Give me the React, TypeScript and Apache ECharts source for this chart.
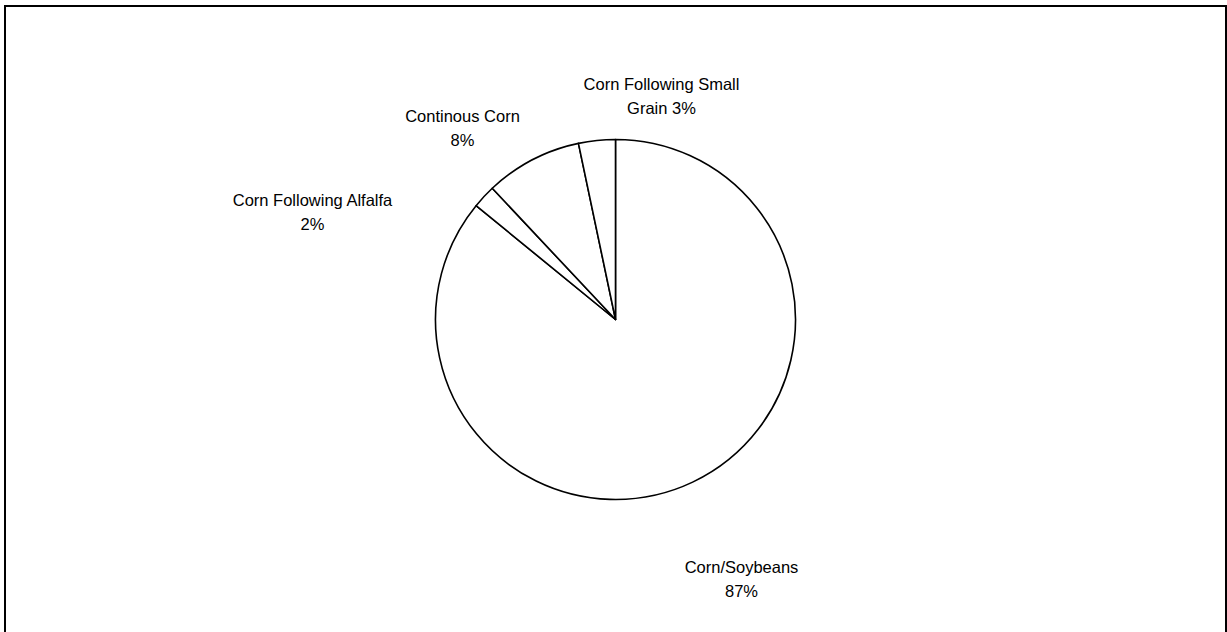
import React, { useEffect, useRef } from "react";
import * as echarts from "echarts";

const categories = [
  "Corn/Soybeans",
  "Corn Following Alfalfa",
  "Continous Corn",
  "Corn Following Small Grain",
];
const values = [85.9, 2.1, 8.7, 3.3];
const percentLabels = ["87%", "2%", "8%", "3%"];
const labelTexts = [
  "Corn/Soybeans\n87%",
  "Corn Following Alfalfa\n2%",
  "Continous Corn\n8%",
  "Corn Following Small\nGrain 3%",
];
// label centres relative to the pie centre (px)
const labelOffsets: [number, number][] = [
  [126, 259],
  [-303, -108],
  [-153, -192],
  [46, -224],
];

const CX = 615.5;
const CY = 319.5;

export default function App() {
  const ref = useRef<HTMLDivElement>(null);
  useEffect(() => {
    if (!ref.current) return;
    const chart = echarts.init(ref.current, undefined, { renderer: "svg" });
    chart.setOption({
      animation: false,
      backgroundColor: "#ffffff",
      graphic: [
        {
          type: "rect",
          shape: { x: 5, y: 6, width: 1221, height: 640 },
          style: { fill: "none", stroke: "#000", lineWidth: 2 },
          silent: true,
        },
      ],
      series: [
        {
          type: "pie",
          center: [CX, CY],
          radius: 180,
          startAngle: 90,
          clockwise: true,
          silent: true,
          avoidLabelOverlap: false,
          itemStyle: { color: "#ffffff", borderColor: "#000000", borderWidth: 1.6 },
          emphasis: { disabled: true },
          label: {
            show: true,
            position: "outside",
            color: "#000",
            fontFamily: "Liberation Sans, Arial, sans-serif",
            fontSize: 16.5,
            lineHeight: 24,
            align: "center",
            formatter: (p: any) => labelTexts[p.dataIndex],
          },
          labelLine: { show: false },
          labelLayout: (p: any) => {
            const o = labelOffsets[p.dataIndex];
            return {
              x: CX + o[0],
              y: CY + o[1],
              align: "center",
              verticalAlign: "middle",
            };
          },
          data: categories.map((c, i) => ({ name: c, value: values[i], pct: percentLabels[i] })),
        },
      ],
    });
    return () => chart.dispose();
  }, []);
  return (
    <div
      ref={ref}
      style={{ position: "fixed", left: 0, top: 0, width: 1227, height: 632 }}
    />
  );
}
